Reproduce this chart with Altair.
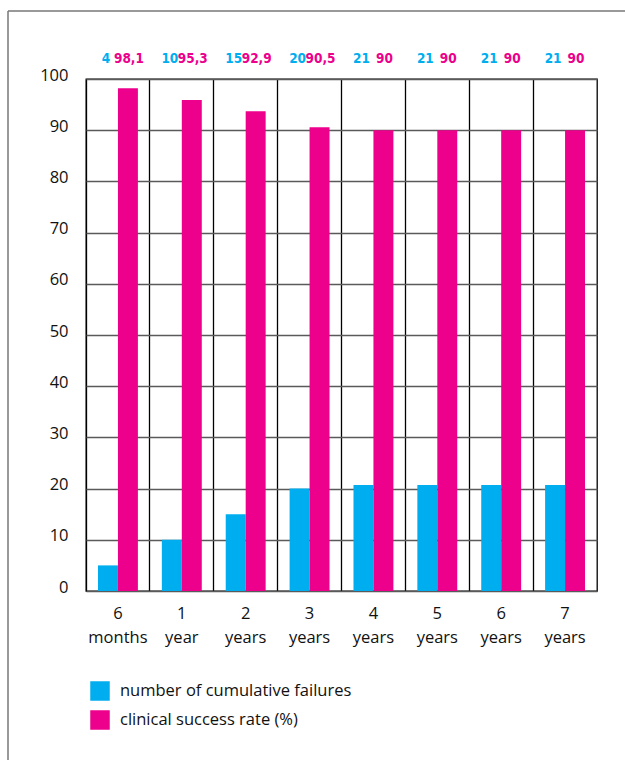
import altair as alt
import pandas as pd

periods = ["6 months", "1 year", "2 years", "3 years", "4 years", "5 years", "6 years", "7 years"]
failures = [5, 10, 15, 20, 20.7, 20.7, 20.7, 20.7]
success = [98.2, 95.9, 93.7, 90.6, 90, 90, 90, 90]
failure_labels = ["4", "10", "15", "20", "21", "21", "21", "21"]
success_labels = ["98,1", "95,3", "92,9", "90,5", "90", "90", "90", "90"]
series = ["number of cumulative failures", "clinical success rate (%)"]
colors = ["#00AEEF", "#EC008C"]
y_ticks = [0, 10, 20, 30, 40, 50, 60, 70, 80, 90, 100]

rows = []
for i, p in enumerate(periods):
    rows.append({"period": p, "series": series[0], "value": failures[i], "label": failure_labels[i]})
    rows.append({"period": p, "series": series[1], "value": success[i], "label": success_labels[i]})
df = pd.DataFrame(rows)

FONT = "Open Sans"

x_enc = alt.X("period:N", sort=periods,
              scale=alt.Scale(paddingInner=0, paddingOuter=0),
              axis=alt.Axis(title=None, labelAngle=0, ticks=False, domain=False,
                            grid=True, gridColor="#000000", gridWidth=1.3, bandPosition=0,
                            labelExpr="split(datum.label, ' ')",
                            labelFont=FONT, labelFontSize=16.5, labelColor="#111111",
                            labelBaseline="alphabetic", labelPadding=27, labelLineHeight=24))
xoff_enc = alt.XOffset("series:N", sort=series,
                       scale=alt.Scale(domain=series, paddingInner=0, paddingOuter=0.6))
color_enc = alt.Color("series:N",
                      scale=alt.Scale(domain=series, range=colors),
                      legend=alt.Legend(title=None, orient="none", legendX=4, legendY=602,
                                        symbolType="square", symbolSize=380, symbolStrokeWidth=0,
                                        symbolOpacity=1, labelFont=FONT, labelFontSize=16.5,
                                        labelColor="#111111", rowPadding=9, labelOffset=10,
                                        labelLimit=0))

bars = alt.Chart(df).mark_bar(opacity=1).encode(
    x=x_enc,
    xOffset=xoff_enc,
    y=alt.Y("value:Q", scale=alt.Scale(domain=[0, 100], nice=False),
            axis=alt.Axis(title=None, values=y_ticks, ticks=False, domain=False,
                          grid=True, gridColor="#5a5a5a", gridWidth=1.3,
                          labelFont=FONT, labelFontSize=16.5, labelColor="#111111",
                          labelBaseline="alphabetic", labelOffset=1, labelPadding=18)),
    color=color_enc,
)


def label_layer(idx, dx):
    return alt.Chart(df).transform_filter(
        alt.datum.series == series[idx]
    ).mark_text(font="DejaVu Sans Condensed", fontSize=13.5, fontWeight=600,
                baseline="alphabetic", align="center", dx=dx,
                color=colors[idx]).encode(
        x=alt.X("period:N", sort=periods),
        xOffset=alt.XOffset("series:N", sort=series),
        y=alt.value(-16),
        text="label:N",
    )


labels_fail = label_layer(0, -2)
labels_succ = label_layer(1, 1)

frame_df = pd.DataFrame({"k": [0]})
frame_top = alt.Chart(frame_df).mark_rule(color="#777777", strokeWidth=1.5).encode(
    x=alt.value(-78), x2=alt.value(560), y=alt.value(-68))
frame_left = alt.Chart(frame_df).mark_rule(color="#777777", strokeWidth=1.5).encode(
    x=alt.value(-78), y=alt.value(-68), y2=alt.value(700))

chart = alt.layer(bars, labels_fail, labels_succ, frame_top, frame_left).properties(
    width=511, height=512,
    autosize=alt.AutoSizeParams(type="none"),
    padding={"left": 86, "top": 79, "right": 28, "bottom": 169},
    background="white",
).configure_view(stroke="#000000", strokeWidth=1.3)

chart.save("out.html", embed_options={"renderer": "svg", "actions": False})
